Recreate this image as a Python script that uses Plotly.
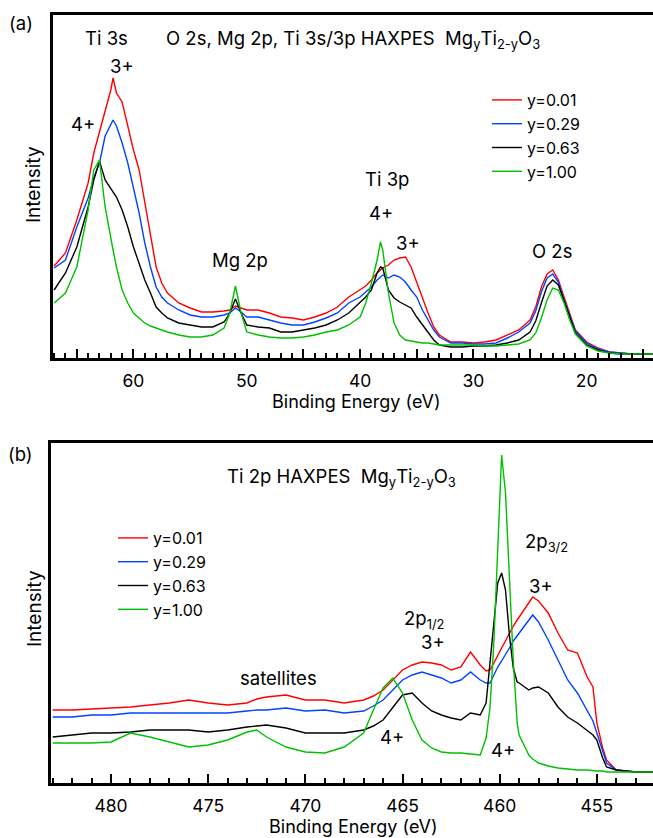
import plotly.graph_objects as go

W, H = 653, 838
FONT = "Inter, Liberation Sans, Arial, sans-serif"

# ---------------- panel (a): O 2s, Mg 2p, Ti 3s/3p ----------------
top_be = [67, 66, 65, 64, 63.5, 63, 62.5, 62, 61.8, 61.5, 61, 60.5, 60,
          59.5, 59, 58.5, 58, 57.5, 57, 56, 55, 54, 53, 52,
          51.5, 51, 50.5, 50, 49, 48, 47, 46, 45, 44, 43, 42, 41, 40,
          39.5, 39, 38.5, 38.2, 38, 37.5, 37, 36.5, 36, 35.5, 35, 34.5, 34, 33.5, 33,
          32, 31, 30, 29, 28, 27, 26, 25, 24.5, 24, 23.5, 23, 22.5, 22, 21.5, 21,
          20, 19, 18, 17, 16, 15, 14.2]
top_y001 = [92, 105, 138, 175, 205, 226, 248, 268, 280, 265, 256, 231, 208,
            188, 155, 121, 91, 75, 65, 55, 50, 46, 46, 47,
            48, 52, 50, 48, 48, 45, 41, 40, 38, 41, 45, 51, 61, 68,
            72, 78, 85, 88, 90, 93, 98, 100, 101, 91, 75, 61, 45, 31, 23,
            16, 16, 15, 16, 18, 23, 28, 38, 51, 71, 84, 88, 78, 61, 45, 28,
            16, 10, 6, 5, 4, 4, 4]
top_y029 = [90, 98, 131, 160, 180, 195, 222, 233, 238, 232, 215, 195, 171,
            145, 115, 91, 71, 61, 55, 48, 43, 41, 41, 43,
            45, 50, 46, 41, 41, 38, 35, 33, 33, 36, 40, 45, 55, 61,
            66, 71, 78, 81, 83, 80, 83, 81, 76, 68, 61, 48, 38, 28, 21,
            15, 15, 14, 14, 15, 20, 26, 35, 47, 66, 80, 84, 76, 58, 42, 27,
            15, 9, 6, 5, 4, 4, 4]
top_y063 = [68, 85, 111, 151, 178, 197, 178, 170, 166, 161, 148, 131, 111,
            95, 78, 65, 51, 45, 40, 35, 33, 31, 31, 36,
            45, 59, 45, 33, 31, 30, 26, 26, 28, 30, 33, 38, 45, 55,
            61, 68, 85, 91, 90, 68, 60, 56, 53, 50, 41, 33, 25, 18, 13,
            11, 11, 12, 12, 13, 15, 18, 26, 37, 55, 72, 78, 73, 57, 40, 25,
            13, 8, 5, 4, 4, 4, 4]
top_y100 = [55, 65, 91, 148, 188, 198, 151, 118, 108, 91, 68, 55, 45,
            40, 35, 32, 30, 28, 26, 23, 21, 21, 23, 30,
            45, 72, 45, 26, 23, 21, 20, 20, 21, 23, 26, 28, 33, 41,
            55, 75, 98, 116, 108, 65, 35, 23, 18, 17, 16, 15, 15, 14, 13,
            13, 13, 13, 12, 12, 13, 14, 18, 25, 40, 58, 70, 68, 55, 38, 24,
            12, 7, 5, 4, 4, 4, 4]

# ---------------- panel (b): Ti 2p ----------------
bot_be = [483, 482, 481, 480, 479, 478, 477, 476, 475, 474, 473,
          472.5, 472, 471, 470, 469, 468, 467,
          466.5, 466, 465.5, 465, 464.5, 464, 463.5, 463, 462.5, 462, 461.5, 461,
          460.7, 460.5, 460.3, 460.1, 459.9, 459.7, 459.5, 459.3, 459.1, 459,
          458.5, 458.3, 458, 457.5, 457, 456.5, 456, 455.5, 455.2, 455,
          454.7, 454.5, 454, 453, 452]
bot_y001 = [73, 73, 74, 75, 76, 78, 80, 83, 80, 78, 80,
            84, 86, 88, 83, 83, 80, 83,
            87, 93, 103, 113, 118, 121, 120, 118, 113, 116, 131, 118,
            112, 113, 120, 128, 135, 142, 150, 157, 163, 166,
            180, 186, 182, 170, 150, 133, 130, 106, 96, 60,
            35, 23, 13, 11, 11]
bot_y029 = [66, 66, 68, 68, 70, 70, 70, 70, 70, 70, 72,
            73, 73, 75, 72, 73, 70, 72,
            77, 83, 93, 103, 108, 111, 108, 105, 100, 103, 111, 103,
            100, 100, 108, 116, 122, 128, 135, 142, 147, 150,
            162, 168, 161, 143, 123, 103, 90, 73, 62, 50,
            32, 20, 13, 11, 11]
bot_y063 = [46, 48, 50, 50, 51, 53, 53, 53, 51, 53, 56,
            57, 58, 55, 50, 50, 50, 53,
            57, 63, 76, 88, 90, 80, 72, 68, 65, 63, 70, 68,
            80, 120, 165, 200, 210, 193, 148, 115, 101, 100,
            93, 95, 96, 90, 76, 66, 60, 53, 48, 43,
            25, 16, 13, 11, 11]
bot_y100 = [40, 40, 40, 41, 50, 46, 41, 36, 38, 43, 51,
            53, 46, 36, 31, 30, 36, 50,
            73, 95, 105, 90, 63, 43, 35, 31, 30, 30, 29, 28,
            45, 75, 140, 240, 328, 290, 205, 122, 60, 48,
            28, 24, 20, 17, 15, 14, 13, 13, 12, 12,
            12, 11, 11, 11, 11]

names = ["y=0.01", "y=0.29", "y=0.63", "y=1.00"]
colors = ["#ff0000", "#0044ff", "#000000", "#00c000"]
top_series = [top_y001, top_y029, top_y063, top_y100]
bot_series = [bot_y001, bot_y029, bot_y063, bot_y100]
for s in top_series:
    assert len(s) == len(top_be)
for s in bot_series:
    assert len(s) == len(bot_be)

fig = go.Figure()
for n, c, ys in zip(names, colors, top_series):
    fig.add_trace(go.Scatter(x=top_be, y=ys, mode="lines", name=n,
                             line=dict(color=c, width=1.4),
                             xaxis="x", yaxis="y", legend="legend"))
for n, c, ys in zip(names, colors, bot_series):
    fig.add_trace(go.Scatter(x=bot_be, y=ys, mode="lines", name=n,
                             line=dict(color=c, width=1.4),
                             xaxis="x2", yaxis="y2", legend="legend2"))


def px(x):
    return x / W


def py(y):
    return 1 - y / H


def xax(domain, rng, anchor, labelstep):
    return dict(domain=domain, range=rng, anchor=anchor,
                showline=True, linecolor="black", linewidth=2.5, mirror=True,
                showgrid=False, zeroline=False,
                ticks="inside", ticklen=9, tickwidth=2, tickcolor="black",
                tickmode="linear", tick0=0, dtick=5, ticklabelstep=labelstep,
                tickfont=dict(family=FONT, size=17.5, color="black"),
                ticklabelstandoff=5,
                minor=dict(ticks="inside", dtick=1, tick0=0, ticklen=5,
                           tickwidth=1.5, tickcolor="black", showgrid=False))


def yax(domain, rng, anchor):
    return dict(domain=domain, range=rng, anchor=anchor,
                showline=True, linecolor="black", linewidth=2.5, mirror=False,
                showgrid=False, zeroline=False, ticks="", showticklabels=False)


anns = []


def ann(text, x, y, size=18.5, xanchor="center", angle=0):
    anns.append(dict(text=text, x=px(x), y=py(y), xref="paper", yref="paper",
                     showarrow=False, xanchor=xanchor, yanchor="middle",
                     textangle=angle,
                     font=dict(family=FONT, size=size, color="black")))


NB = "\u00a0"
# panel (a) texts
ann("(a)", 21, 23)
ann("Ti 3s", 106, 38)
ann("O 2s, Mg 2p, Ti 3s/3p HAXPES" + NB + NB + "Mg<sub>y</sub>Ti<sub>2-y</sub>O<sub>3</sub>", 164, 39, xanchor="left")
ann("3+", 122, 66)
ann("4+", 83, 124)
ann("Mg 2p", 240, 260)
ann("Ti 3p", 387, 179)
ann("4+", 381, 213)
ann("3+", 408, 243)
ann("O 2s", 552, 251)
ann("Binding Energy (eV)", 356, 401, size=18)
ann("Intensity", 34, 185, size=19, angle=-90)
# panel (b) texts
ann("(b)", 20, 454)
ann("Ti 2p HAXPES" + NB + NB + "Mg<sub>y</sub>Ti<sub>2-y</sub>O<sub>3</sub>", 225, 478, xanchor="left")
ann("satellites", 278, 678)
ann("2p<sub>1/2</sub>", 402, 619, xanchor="left")
ann("3+", 433, 642)
ann("4+", 392, 737)
ann("4+", 503, 750)
ann("2p<sub>3/2</sub>", 523, 542, xanchor="left")
ann("3+", 541, 586)
ann("Binding Energy (eV)", 353, 826, size=18)
ann("Intensity", 34, 609, size=19, angle=-90)

fig.update_layout(
    width=W, height=H,
    margin=dict(l=0, r=0, t=0, b=0),
    paper_bgcolor="white", plot_bgcolor="white",
    font=dict(family=FONT, size=18, color="black"),
    xaxis=xax([53 / W, 1], [67.1, 14.15], "y", 2),
    yaxis=yax([py(358), py(15)], [0, 343], "x"),
    xaxis2=xax([51 / W, 1], [483.09, 452.11], "y2", 1),
    yaxis2=yax([py(783), py(443)], [0, 340], "x2"),
    legend=dict(x=px(487), y=py(83), xanchor="left", yanchor="top",
                bgcolor="rgba(0,0,0,0)", borderwidth=0, tracegroupgap=0,
                font=dict(family=FONT, size=16, color="black")),
    legend2=dict(x=px(113), y=py(521), xanchor="left", yanchor="top",
                 bgcolor="rgba(0,0,0,0)", borderwidth=0, tracegroupgap=0,
                 font=dict(family=FONT, size=16, color="black")),
    annotations=anns,
    showlegend=True,
)

fig.write_html("out.html", config={"displayModeBar": False},
               post_script="document.body.style.margin='0px';document.body.style.overflow='hidden';")
